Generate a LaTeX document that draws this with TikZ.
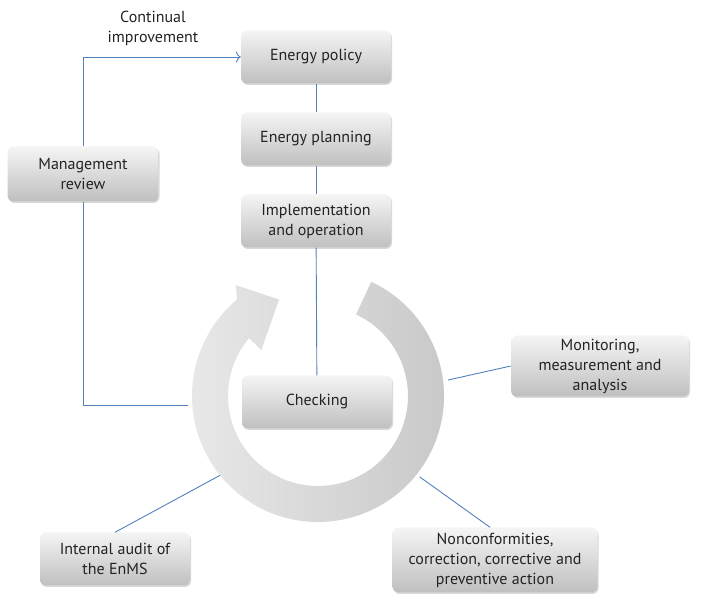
\documentclass[tikz,border=0pt]{standalone}
\usepackage{fontspec}
\setmainfont{PT Sans}
\usepackage{tikz}
\usetikzlibrary{positioning, shadows, calc, arrows.meta}
\definecolor{linkblue}{RGB}{79,129,189}
\definecolor{boxtext}{RGB}{35,35,35}
\tikzset{
    >={To[length=5pt, width=11pt]}, % open arrow head as in the reference
    node distance=82pt, % vertical step between the planning boxes
    stage/.style={rounded corners=6pt, top color=gray!8, bottom color=gray!50,
        minimum width=150pt, minimum height=53pt, inner sep=1pt, align=center,
        text=boxtext, font=\fontsize{16}{20}\selectfont,
        drop shadow={shadow xshift=1pt, shadow yshift=-1.5pt, opacity=0.3}}, % the grey boxes
    link/.style={draw=linkblue, line width=0.9pt}, % the blue connectors
}

\begin{document}
\begin{tikzpicture}[x=1pt, y=1pt]
        \useasboundingbox (0,0) rectangle (702,602);
        % circular arrow behind Checking
        \coordinate (c) at (318,206);
        \shade[left color=gray!18, right color=gray!44]
            ($(c)+(65:126)$) arc[start angle=65, end angle=-230, radius=126]
            -- ($(c)+(126.5:138)$) -- ($(c)+(112:104)$) -- ($(c)+(141:73)$)
            -- ($(c)+(140:90)$) arc[start angle=-220, end angle=65, radius=90] -- cycle;
        \coordinate (ringW) at (188,197);
        \coordinate (ringE) at ($(c)+(7:131)$);
        \coordinate (ringSE) at ($(c)+(-38.5:130)$);
        \coordinate (ringSW) at ($(c)+(-141:126)$);

        \node[stage] (policy) at (316,545) {Energy policy};
        \node[stage, below of=policy] (planning) {Energy planning};
        \node[stage, below of=planning] (impl) {Implementation\\and operation};
        \node[stage] (check) at (317,200) {Checking};
        \node[stage, minimum width=151pt, minimum height=55pt] (review) at (83,428) {Management\\review};
        \node[stage, minimum width=178pt, minimum height=61pt] (monitor) at (600,236) {Monitoring,\\measurement and\\analysis};
        \node[stage, minimum width=205pt, minimum height=65pt] (noncon) at (495,42) {Nonconformities,\\correction, corrective and\\preventive action};
        \node[stage] (audit) at (115,43) {Internal audit of\\the EnMS};
        \node[align=center, text=boxtext, font=\fontsize{16}{20}\selectfont] (improve) at (153,574) {Continual\\improvement};

        \draw[link] (policy) -- (planning);
        \draw[link] (planning) -- (impl);
        \draw[link] (impl) -- (check);
        \draw[link, ->] (review.north) |- (policy.west);
        \draw[link] (review.south) |- (ringW);
        \draw[link] (ringE) -- (monitor.west);
        \draw[link] (ringSE) -- ([xshift=-5pt]noncon.north);
        \draw[link] (ringSW) -- (audit.north);
    \end{tikzpicture}
\end{document}
